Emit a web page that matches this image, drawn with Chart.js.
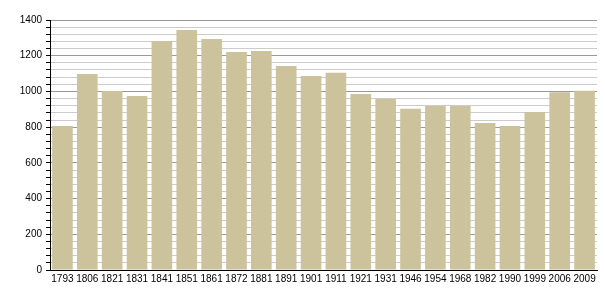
<!DOCTYPE html>
<html>
<head>
<meta charset="utf-8">
<script src="https://cdn.jsdelivr.net/npm/chart.js@4"></script>
<style>
  html, body { margin: 0; padding: 0; background: #fff; }
  #wrap { width: 605px; height: 300px; }
</style>
</head>
<body>
<div id="wrap"><canvas id="chart"></canvas></div>
<script>
const years = ["1793", "1806", "1821", "1831", "1841", "1851", "1861", "1872", "1881", "1891",
  "1901", "1911", "1921", "1931", "1946", "1954", "1968", "1982", "1990", "1999", "2006", "2009"];
const population = [806, 1098, 1002, 975, 1282, 1344, 1294, 1221, 1226, 1142,
  1086, 1105, 986, 958, 903, 918, 918, 823, 806, 885, 995, 1004];
const yMax = 1400;
const yLabelStep = 200;

const ctx = document.getElementById("chart").getContext("2d");
new Chart(ctx, {
  type: "bar",
  data: {
    labels: years,
    datasets: [
      {
        data: population,
        backgroundColor: "#ccc29c",
        borderWidth: 0,
        barPercentage: 0.83,
        categoryPercentage: 1,
      },
    ],
  },
  options: {
    responsive: true,
    maintainAspectRatio: false,
    animation: false,
    layout: { padding: { top: 20, right: 8, left: 0, bottom: 0 } },
    plugins: {
      legend: { display: false },
      tooltip: { enabled: false },
    },
    scales: {
      x: {
        grid: { display: false, drawTicks: false },
        border: { color: "#000", width: 1 },
        ticks: {
          color: "#000",
          font: { family: "Liberation Sans, Arial, sans-serif", size: 10 },
          maxRotation: 0,
          autoSkip: false,
          padding: 3,
        },
        afterFit: (scale) => { scale.height = 30; },
      },
      y: {
        min: 0,
        max: yMax,
        border: { color: "#000", width: 1 },
        grid: {
          color: (c) => (c.tick && c.tick.value % yLabelStep === 0 ? "#999" : "#ccc"),
          tickColor: "#000",
          tickLength: 4,
        },
        ticks: {
          stepSize: 40,
          autoSkip: false,
          color: "#000",
          padding: 4,
          font: { family: "Liberation Sans, Arial, sans-serif", size: 10 },
          callback: (v) => (v % yLabelStep === 0 ? v : ""),
        },
        afterFit: (scale) => { scale.width = 50; },
      },
    },
  },
});
</script>
</body>
</html>
